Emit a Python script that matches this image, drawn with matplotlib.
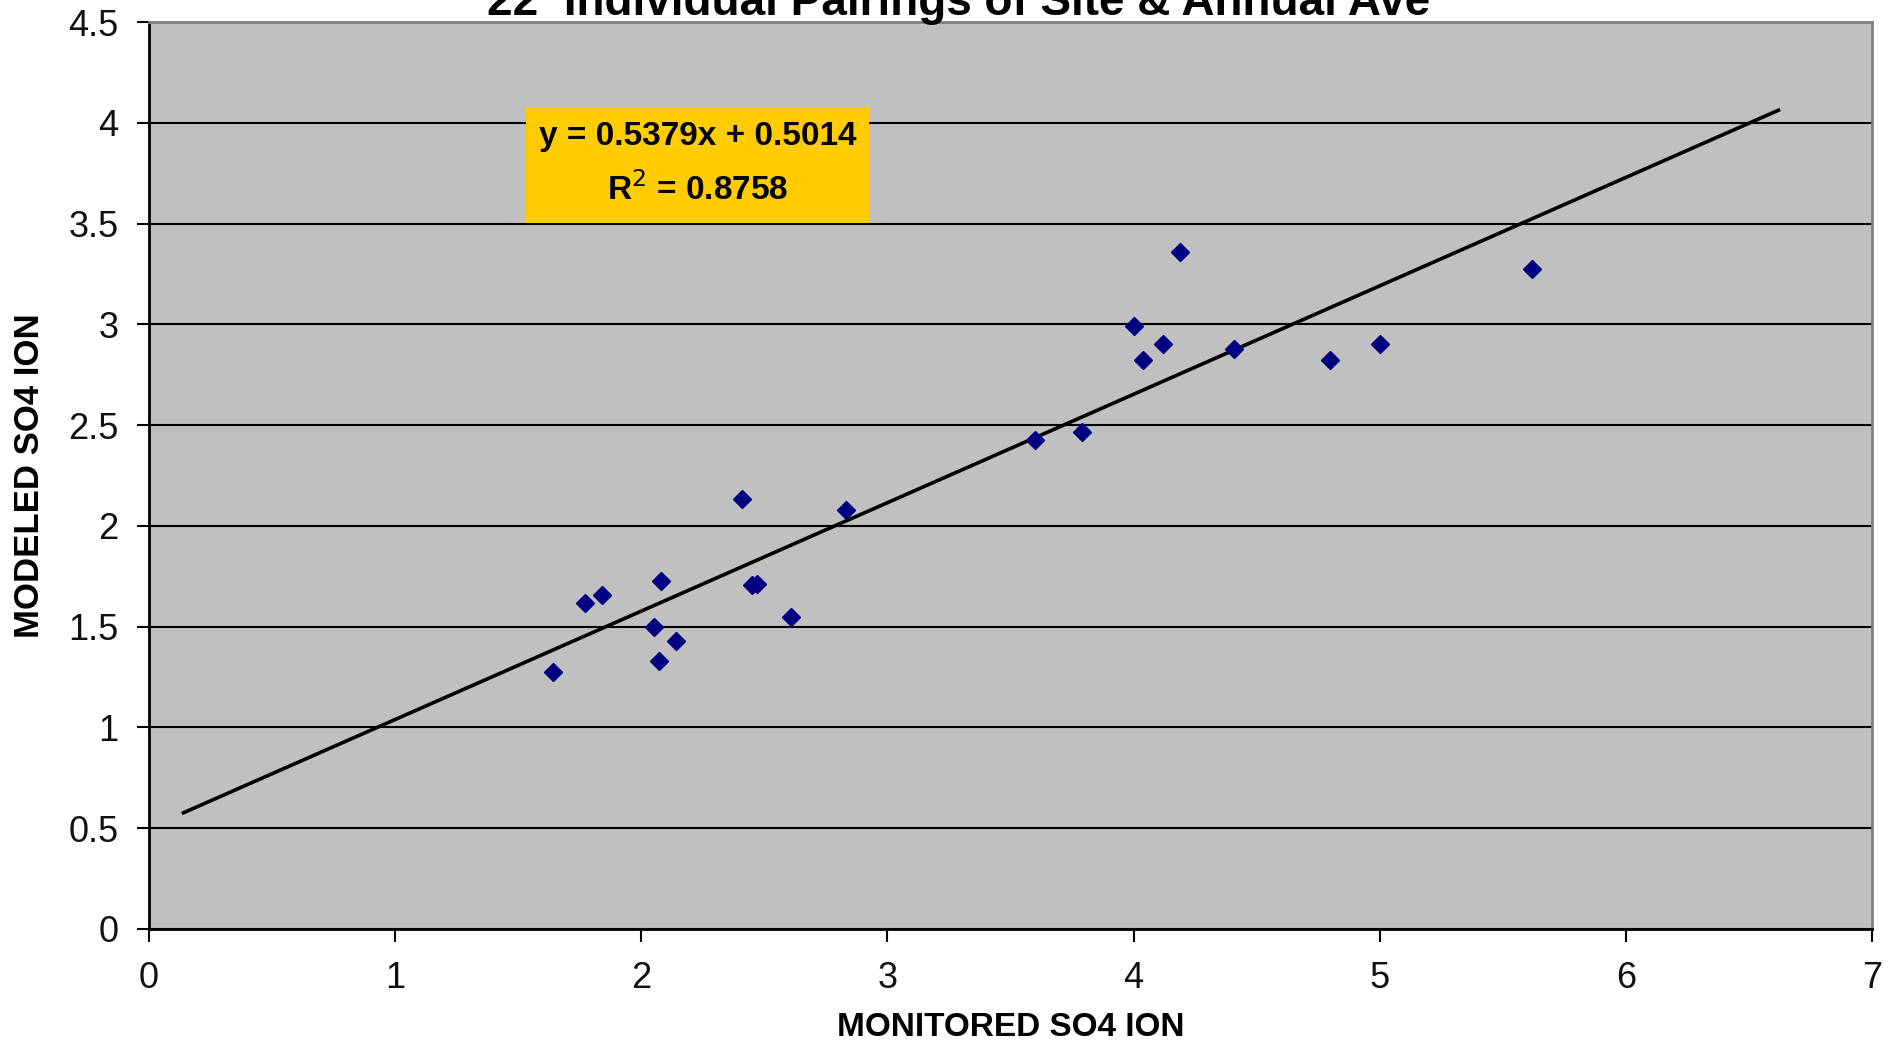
import matplotlib
matplotlib.use("Agg")
import matplotlib.pyplot as plt
from matplotlib.patches import Rectangle
import numpy as np

plt.rcParams['font.family'] = ['Liberation Sans', 'DejaVu Sans']

# Data
monitored = [1.64, 1.77, 1.84, 2.05, 2.07, 2.08, 2.14, 2.41, 2.45, 2.47, 2.61,
             2.83, 3.60, 3.79, 4.00, 4.04, 4.12, 4.19, 4.41, 4.80, 5.00, 5.62]
modeled = [1.274, 1.617, 1.659, 1.496, 1.328, 1.725, 1.430, 2.133, 1.707, 1.713, 1.550,
           2.079, 2.428, 2.464, 2.993, 2.825, 2.903, 3.359, 2.879, 2.825, 2.903, 3.275]
slope = 0.5379
intercept = 0.5014
r_squared = 0.8758
trend_x = [0.14, 6.62]
x_ticks = [0, 1, 2, 3, 4, 5, 6, 7]
y_ticks = [0, 0.5, 1, 1.5, 2, 2.5, 3, 3.5, 4, 4.5]
y_tick_labels = ['0', '0.5', '1', '1.5', '2', '2.5', '3', '3.5', '4', '4.5']

title = "22  Individual Pairings of Site & Annual Ave"
xlabel = "MONITORED SO4 ION"
ylabel = "MODELED SO4 ION"

fig = plt.figure(figsize=(19, 10.47), dpi=100)
fig.patch.set_facecolor('white')
ax = fig.add_axes([149/1900, 1-929/1047, (1872-149)/1900, (929-22)/1047])
ax.set_facecolor('#C0C0C0')

ax.set_xlim(0, 7)
ax.set_ylim(0, 4.5)
ax.set_xticks(x_ticks)
ax.set_yticks(y_ticks)
ax.set_yticklabels(y_tick_labels)

ax.yaxis.grid(True, color='black', linewidth=1.5)
ax.set_axisbelow(True)

tx = np.array(trend_x)
ax.plot(tx, slope * tx + intercept, color='black', linewidth=2.6, zorder=3)
ax.plot(monitored, modeled, linestyle='none', marker='D', markersize=9.5,
        markerfacecolor='#000080', markeredgecolor='#000080', zorder=4)

for s in ['left', 'bottom']:
    ax.spines[s].set_color('black')
    ax.spines[s].set_linewidth(2)
for s in ['top', 'right']:
    ax.spines[s].set_color('#808080')
    ax.spines[s].set_linewidth(2)

ax.tick_params(axis='both', direction='out', length=9, width=1.5, color='black',
               labelsize=26, labelcolor='#111111')
ax.tick_params(axis='x', pad=14)
ax.tick_params(axis='y', pad=13)

ax.set_xlabel(xlabel, fontsize=24, fontweight='bold')
ax.xaxis.label.set_va('center')
ax.xaxis.set_label_coords(0.5, (929-1027)/907)
ax.set_ylabel(ylabel, fontsize=25, fontweight='bold')
ax.yaxis.label.set_va('center')
ax.yaxis.set_label_coords((30-149)/1723, 0.5)

# Equation box
x0 = (526-149)/1723
x1 = (869-149)/1723
yb = (929-223)/907
yt = (929-107)/907
ax.add_patch(Rectangle((x0, yb), x1-x0, yt-yb, transform=ax.transAxes,
                       facecolor='#FFCC00', edgecolor='none', zorder=5))
xc = (x0 + x1) / 2
ax.text(xc, (929-137)/907, f"y = {slope:.4f}x + {intercept:.4f}", transform=ax.transAxes,
        ha='center', va='center', fontsize=24, fontweight='bold', zorder=6)
ax.text(xc, (929-190)/907, f"R$^2$ = {r_squared:.4f}", transform=ax.transAxes,
        ha='center', va='center', fontsize=24, fontweight='bold', zorder=6)

fig.text(959/1900, 1-15/1047, title, ha='center', va='baseline',
         fontsize=33, fontweight='bold')

fig.savefig('out.png', dpi=100)
